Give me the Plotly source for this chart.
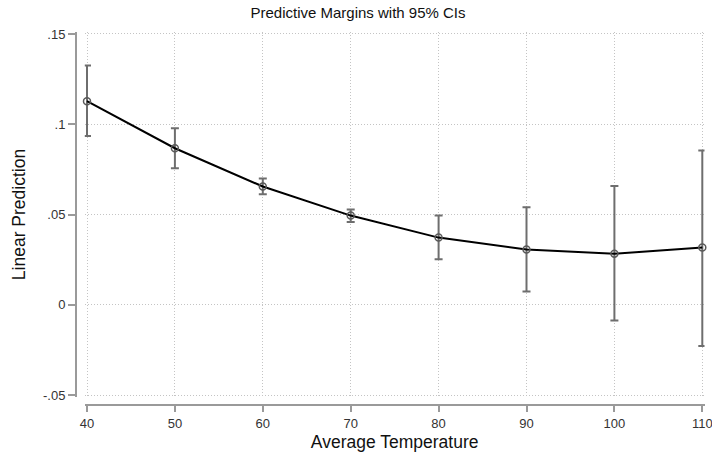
import plotly.graph_objects as go

temps = [40, 50, 60, 70, 80, 90, 100, 110]
margins = [0.1128, 0.0867, 0.0655, 0.0494, 0.0372, 0.0306, 0.0283, 0.0317]
ci_upper = [0.1325, 0.0978, 0.0700, 0.0528, 0.0494, 0.0540, 0.0658, 0.0855]
ci_lower = [0.0935, 0.0756, 0.0612, 0.0458, 0.0252, 0.0073, -0.0087, -0.0228]

y_ticks = [-0.05, 0, 0.05, 0.1, 0.15]
y_labels = ["-.05", "0", ".05", ".1", ".15"]
x_ticks = [40, 50, 60, 70, 80, 90, 100, 110]

err_plus = [u - m for u, m in zip(ci_upper, margins)]
err_minus = [m - l for m, l in zip(margins, ci_lower)]

FONT = "Liberation Sans, Arial, sans-serif"

fig = go.Figure()
fig.add_trace(go.Scatter(
    x=temps, y=margins, mode="lines+markers",
    line=dict(color="black", width=2),
    marker=dict(symbol="circle-open", size=7, color="#5a5a5a", line=dict(width=1.5, color="#5a5a5a")),
    error_y=dict(type="data", array=err_plus, arrayminus=err_minus,
                 color="#6e6e6e", thickness=2, width=4, symmetric=False),
    cliponaxis=False,
    showlegend=False,
))

fig.update_layout(
    width=712, height=455,
    margin=dict(l=76, r=0, t=32, b=50, autoexpand=False),
    paper_bgcolor="white", plot_bgcolor="white",
    font=dict(family=FONT, color="#222222"),
    title=dict(text="Predictive Margins with 95% CIs", x=358 / 712, xanchor="center",
               y=1 - 13 / 455, yanchor="middle", font=dict(size=15, color="#111111")),
    xaxis=dict(
        domain=[8.8 / 636, 628.5 / 636],
        range=[39.75, 110.25], anchor="free", position=0, automargin=False,
        tickmode="array", tickvals=x_ticks, ticklabeloverflow="allow",
        ticks="outside", ticklen=6, tickcolor="#9a9a9a", tickwidth=1.5,
        showline=True, linecolor="#9a9a9a", linewidth=2,
        showgrid=True, gridcolor="#c4c4c4", griddash="1px,2px", gridwidth=1,
        zeroline=False,
        tickfont=dict(size=13, color="#333333"),
        title=dict(text="Average Temperature", font=dict(size=17.5, color="#111111"), standoff=5),
    ),
    yaxis=dict(
        domain=[8 / 373, 1],
        range=[-0.0511, 0.1511], anchor="free", position=0, automargin=False,
        tickmode="array", tickvals=y_ticks, ticktext=y_labels, ticklabeloverflow="allow",
        ticks="outside", ticklen=7, tickcolor="#9a9a9a", tickwidth=1.5,
        showline=True, linecolor="#9a9a9a", linewidth=2,
        showgrid=True, gridcolor="#c4c4c4", griddash="1px,2px", gridwidth=1,
        zeroline=False,
        tickfont=dict(size=13, color="#333333"),
        title=dict(text="Linear Prediction", font=dict(size=17.5, color="#111111"), standoff=12),
    ),
)

fig.write_html("out.html", config={"displayModeBar": False},
               post_script="document.body.style.margin='0';document.body.style.overflow='hidden';")
